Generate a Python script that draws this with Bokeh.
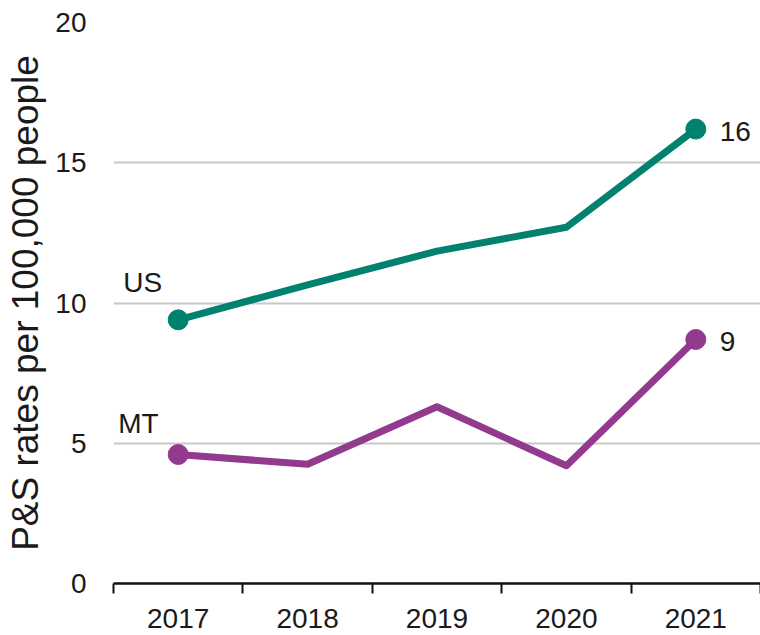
from bokeh.plotting import figure
from bokeh.models import Range1d, FixedTicker, ColumnDataSource
from bokeh.core.properties import value
from bokeh.embed import file_html
from bokeh.resources import INLINE

years = ["2017", "2018", "2019", "2020", "2021"]
us_rates = [9.4, 10.65, 11.85, 12.7, 16.2]
mt_rates = [4.6, 4.25, 6.3, 4.2, 8.7]
series_names = ["US", "MT"]
end_labels = ["16", "9"]
y_ticks = [0, 5, 10, 15, 20]

TEAL = "#00826f"
PURPLE = "#923a8e"
FONT = "Liberation Sans"

xs = [i + 0.5 for i in range(len(years))]

p = figure(width=760, height=635, output_backend="svg", toolbar_location=None,
           x_range=Range1d(0, len(years)), y_range=Range1d(0, 20),
           min_border_left=113, min_border_right=0, min_border_top=22,
           min_border_bottom=52)
p.outline_line_color = None
p.background_fill_color = "white"

# grids
p.xgrid.grid_line_color = None
p.ygrid.grid_line_color = "#c8c8c8"
p.ygrid.grid_line_width = 2
p.ygrid.ticker = FixedTicker(ticks=y_ticks)

# y axis
p.yaxis.ticker = FixedTicker(ticks=y_ticks)
p.yaxis.axis_line_color = None
p.yaxis.major_tick_line_color = None
p.yaxis.minor_tick_line_color = None
p.yaxis.major_label_standoff = 21
p.yaxis.major_label_text_font = FONT
p.yaxis.major_label_text_font_size = "28px"
p.yaxis.major_label_text_color = "#1a1a1a"
p.yaxis.axis_label = "P&S rates per 100,000 people"
p.yaxis.axis_label_text_font = FONT
p.yaxis.axis_label_text_font_size = "37px"
p.yaxis.axis_label_text_font_style = "normal"
p.yaxis.axis_label_text_color = "#1a1a1a"
p.yaxis.axis_label_standoff = 6

# x axis
p.xaxis.ticker = FixedTicker(ticks=xs, minor_ticks=list(range(len(years) + 1)))
p.xaxis.major_label_overrides = {x: y for x, y in zip(xs, years)}
p.xaxis.axis_line_color = "#111111"
p.xaxis.axis_line_width = 2.5
p.xaxis.major_tick_line_color = None
p.xaxis.major_tick_out = 0
p.xaxis.major_tick_in = 0
p.xaxis.minor_tick_line_color = "#111111"
p.xaxis.minor_tick_line_width = 2
p.xaxis.minor_tick_out = 10
p.xaxis.minor_tick_in = 0
p.xaxis.major_label_standoff = 15
p.xaxis.major_label_text_font = FONT
p.xaxis.major_label_text_font_size = "28px"
p.xaxis.major_label_text_color = "#1a1a1a"

for vals, color, name, end_lab, off in [
    (us_rates, TEAL, series_names[0], end_labels[0], (-55, -22)),
    (mt_rates, PURPLE, series_names[1], end_labels[1], (-60, -15)),
]:
    p.line(xs, vals, line_color=color, line_width=7, line_join="round")
    ends = ColumnDataSource(dict(x=[xs[0], xs[-1]], y=[vals[0], vals[-1]]))
    p.scatter("x", "y", source=ends, size=20, fill_color=color, line_color=color)
    p.text(x=[xs[0]], y=[vals[0]], text=[name], x_offset=off[0], y_offset=off[1],
           text_font=value(FONT), text_font_size="28px", text_baseline="bottom",
           text_align="left", text_color="#1a1a1a")
    p.text(x=[xs[-1]], y=[vals[-1]], text=[end_lab], x_offset=24, y_offset=2,
           text_font=value(FONT), text_font_size="28px", text_baseline="middle",
           text_align="left", text_color="#1a1a1a")

open("out.html", "w").write(file_html(p, INLINE))
